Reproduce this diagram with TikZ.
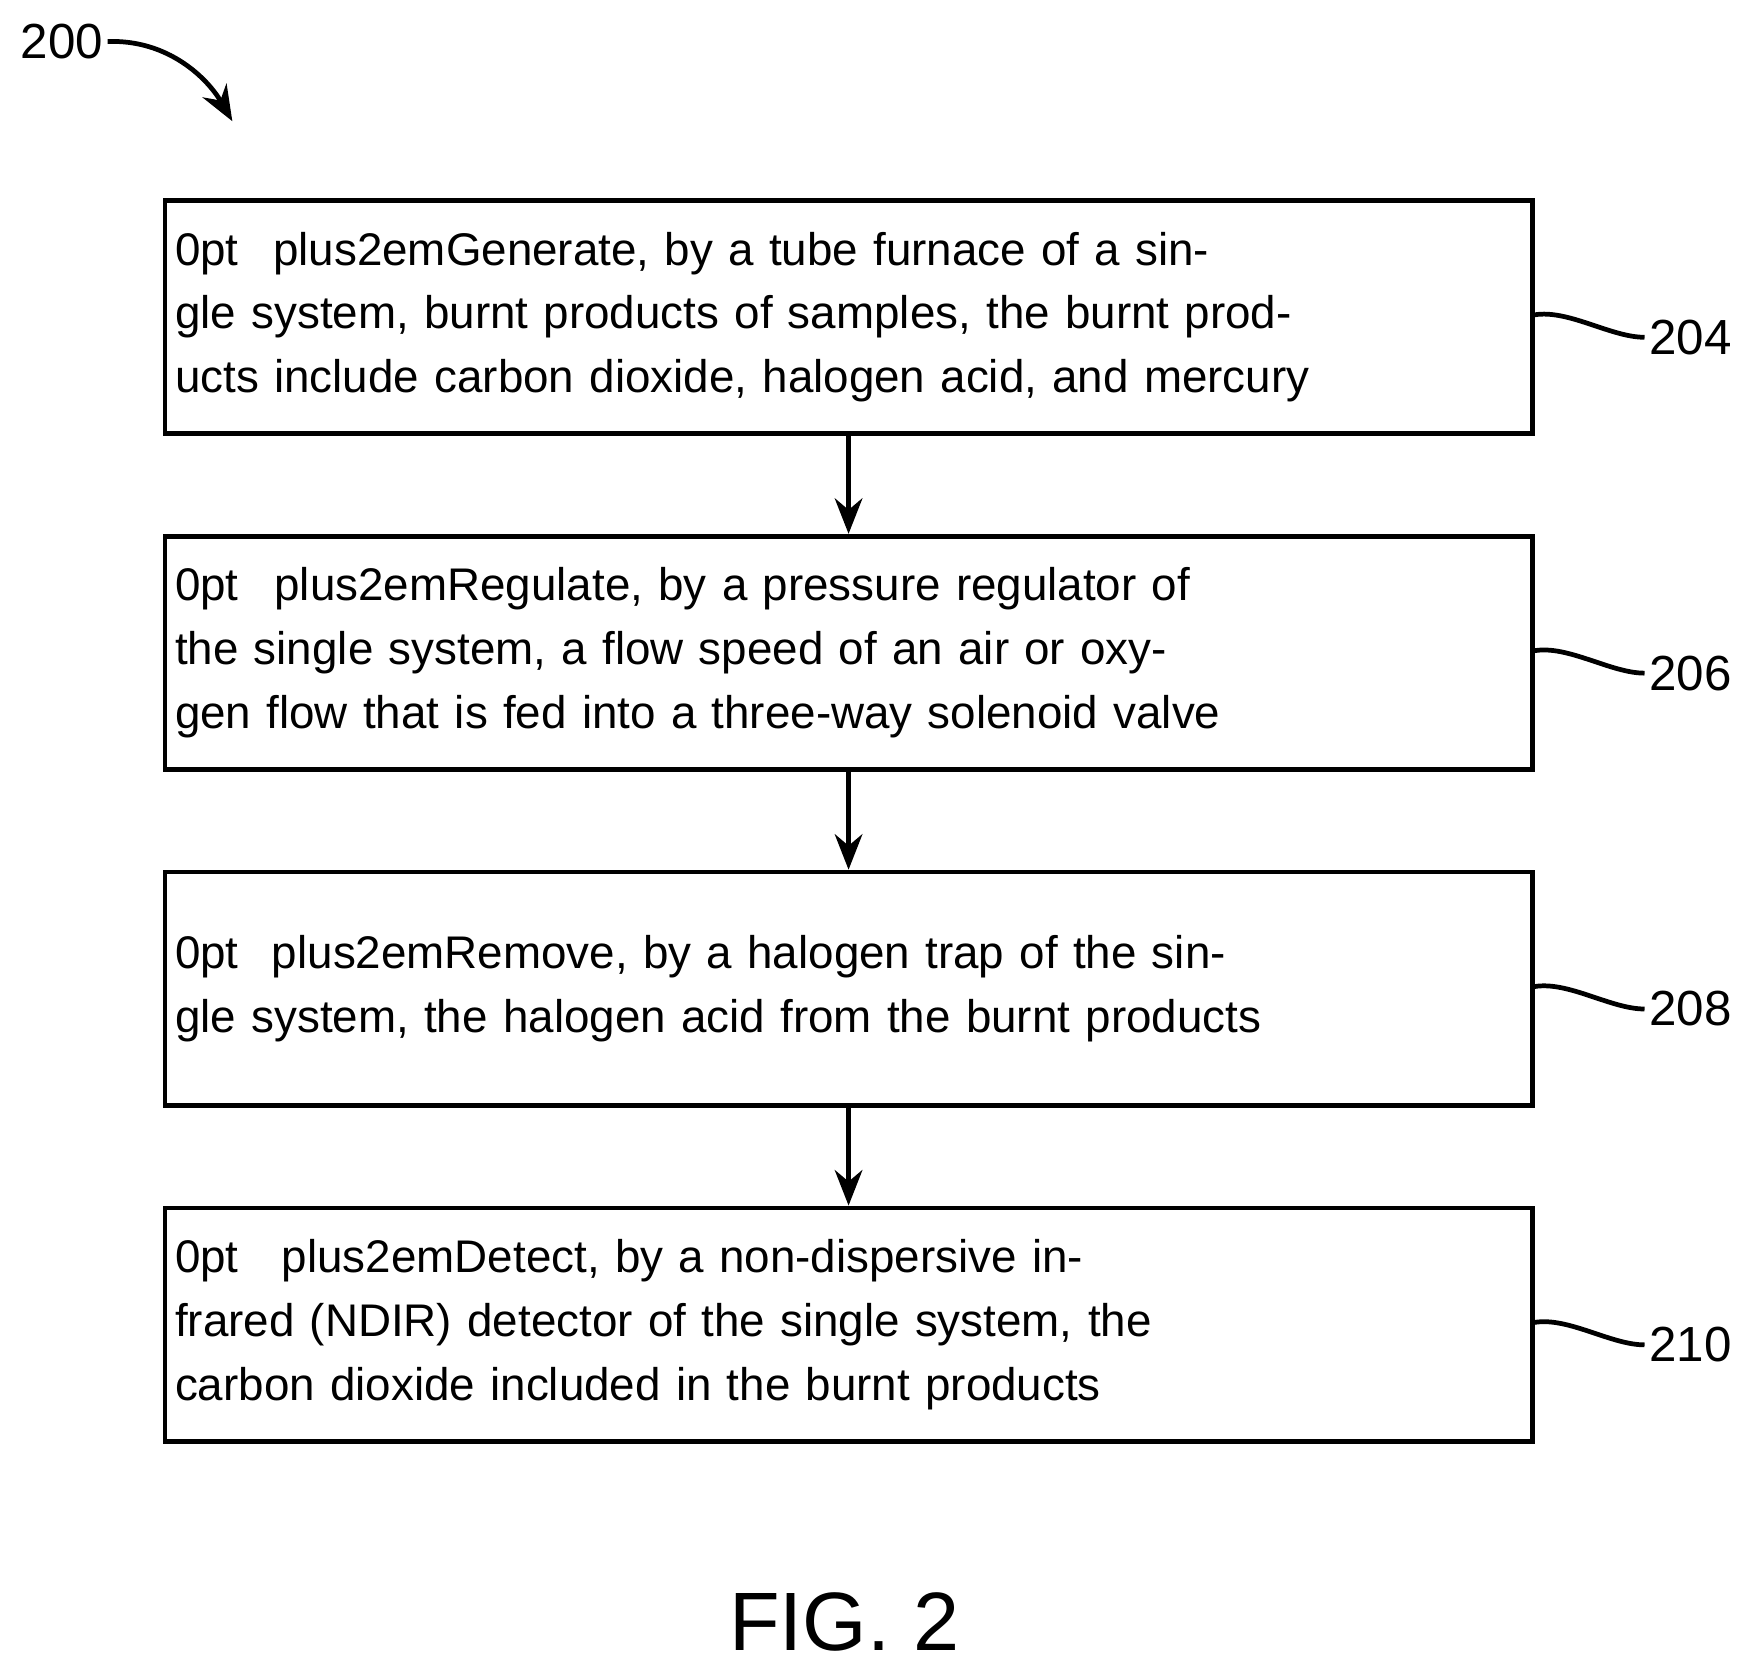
\documentclass[tikz,border=0pt]{standalone}
\usepackage{fontspec}
\setmainfont{Liberation Sans}
\usetikzlibrary{
  arrows.meta,
  positioning
}
\tikzset{
  % For the method steps.
  step box/.style={
    draw,
    line width=1.2pt,
    minimum width=12.18cm,
    minimum height=2.08cm,
    text width=12.0cm,
    align=center,
    inner sep=0pt,
    font=\fontsize{11.6}{16.2}\selectfont\hyphenpenalty=10000},
%
  % For arrows between steps.
  flow/.style={
    line width=1.2pt,
    -{Stealth[length=9pt,width=7pt]}},
%
  % For reference numerals.
  numeral/.style={
    font=\fontsize{12.5}{15}\selectfont,
    inner sep=1pt},
%
  % For the wavy leader lines.
  leader/.style={
    line width=1.2pt,
    to path={(\tikztostart)
               .. controls ++(0.3,0.05) and ++(-0.3,0) .. (\tikztotarget)}},
}
\begin{document}
\begin{tikzpicture}[node distance=0.87cm]
  \useasboundingbox (0,0) rectangle (15.6,-14.87);

  \node[step box] (s204) at (7.56,-2.825)
    {Generate, by a tube furnace of a single system, burnt products of samples, the burnt products include carbon dioxide, halogen acid, and mercury};
  \node[step box, below=of s204] (s206)
    {Regulate, by a pressure regulator of the single system, a flow speed of an air or oxygen flow that is fed into a three-way solenoid valve};
  \node[step box, below=of s206] (s208)
    {Remove, by a halogen trap of the single system, the halogen acid from the burnt products};
  \node[step box, below=of s208] (s210)
    {Detect, by a non-dispersive infrared (NDIR) detector of the single system, the carbon dioxide included in the burnt products};

  \draw[flow] (s204) -- (s206);
  \draw[flow] (s206) -- (s208);
  \draw[flow] (s208) -- (s210);

  \foreach \n in {204,206,208,210} {
    \node[numeral, anchor=west] (l\n) at ([xshift=0.98cm,yshift=-0.18cm]s\n.east) {\n};
    \draw[leader] ([yshift=0.02cm]s\n.east) to (l\n.west);
  }

  \node[numeral] (fig) at (0.55,-0.37) {200};
  \coordinate (figtip) at (2.07,-1.08);
  \draw[line width=1.2pt, -{Stealth[length=9pt,width=7pt]}]
    (fig.east) .. controls (1.5,-0.35) and (1.85,-0.7) .. (figtip);

  \node[font=\fontsize{21}{25}\selectfont] (caption) at (7.52,-14.45) {FIG. 2};
\end{tikzpicture}
\end{document}
